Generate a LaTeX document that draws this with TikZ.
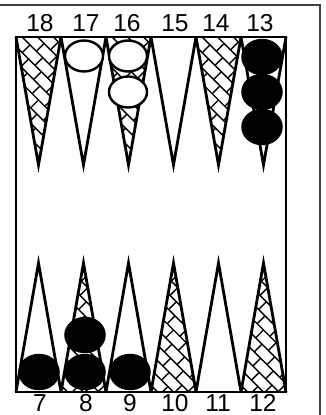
\documentclass[tikz,border=0pt]{standalone}
\usepackage{fontspec}
\setmainfont{Liberation Sans}
\usetikzlibrary{shapes.geometric}
\tikzset{
  pointline/.style={line width=2.8pt, line join=miter},
  hatchline/.style={line width=1.4pt},
  boardline/.style={line width=2.8pt},
  frameline/.style={line width=1.6pt, draw=black!75},
  blackchk/.style={ellipse, draw=black, fill=black, line width=1.5pt, minimum width=40pt, minimum height=35pt, inner sep=0pt},
  whitechk/.style={ellipse, draw=black, fill=white, line width=2.4pt, minimum width=38pt, minimum height=31pt, inner sep=0pt},
  numlabel/.style={font=\fontsize{24.5}{25}\selectfont, inner sep=0pt, anchor=base}
}
\newcommand\bricks[2]{% #1 centre x, #2 centre y
  \begin{scope}[shift={(#1,#2)}, rotate=-45]
    \foreach \i in {0,...,20} {
      \draw[hatchline] (-120,{(\i-10)*11}) -- (120,{(\i-10)*11});
      \foreach \j in {0,...,14} {
        \draw[hatchline] ({(\j-7)*18 + mod(\i,2)*9},{(\i-10)*11}) -- ++(0,11);
      }
    }
  \end{scope}}
\newcommand\hatchtop[1]{%
  \begin{scope}
    \clip (#1,37) -- ({#1+45},37) -- ({#1+22.5},165) -- cycle;
    \bricks{#1+22.5}{100}
  \end{scope}}
\newcommand\hatchbot[1]{%
  \begin{scope}
    \clip (#1,392) -- ({#1+45},392) -- ({#1+22.5},263) -- cycle;
    \bricks{#1+22.5}{330}
  \end{scope}}
\begin{document}
\begin{tikzpicture}[x=1pt,y=-1pt]
\useasboundingbox (0,0) rectangle (325,415);
% outer frame
\draw[frameline] (0,5) -- (320,5) -- (320,416);
% hatching
\hatchtop{16}
\hatchtop{106}
\hatchtop{196}
\hatchbot{61}
\hatchbot{151}
\hatchbot{241}
% points
\foreach \k in {0,...,5} {
  \draw[pointline] ({16+45*\k},37) -- ({38.5+45*\k},165) -- ({61+45*\k},37);
  \draw[pointline] ({16+45*\k},392) -- ({38.5+45*\k},263) -- ({61+45*\k},392);
}
% board
\draw[boardline] (16,37) rectangle (286,392);
% labels
\node[numlabel] (l18) at (40,31) {18};
\node[numlabel] (l17) at (86,31) {17};
\node[numlabel] (l16) at (127,31) {16};
\node[numlabel] (l15) at (175,31) {15};
\node[numlabel] (l14) at (216,31) {14};
\node[numlabel] (l13) at (260,31) {13};
\node[numlabel] (l7) at (40,411) {7};
\node[numlabel] (l8) at (86,411) {8};
\node[numlabel] (l9) at (130,411) {9};
\node[numlabel] (l10) at (175,411) {10};
\node[numlabel] (l11) at (218,411) {11};
\node[numlabel] (l12) at (263,411) {12};
% checkers top
\node[whitechk] (w17) at (84,56) {};
\node[whitechk] (w16a) at (128,56) {};
\node[whitechk] (w16b) at (128,92) {};
\node[blackchk] (b13a) at (262,57) {};
\node[blackchk] (b13b) at (262,92) {};
\node[blackchk] (b13c) at (262,127) {};
% checkers bottom
\node[blackchk] (b7) at (39,372) {};
\node[blackchk] (b8a) at (85,372) {};
\node[blackchk] (b8b) at (85,335) {};
\node[blackchk] (b9) at (130,372) {};
\end{tikzpicture}
\end{document}
